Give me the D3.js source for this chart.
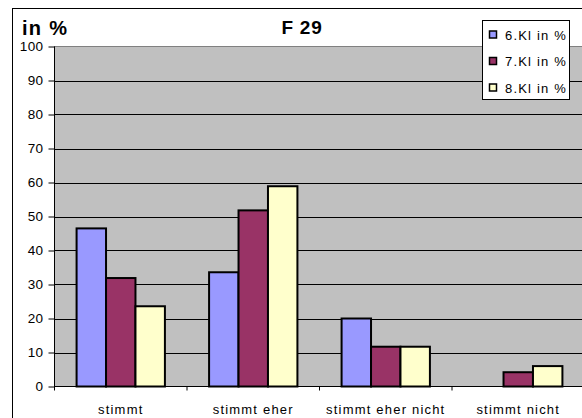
<!DOCTYPE html>
<html>
<head>
<meta charset="utf-8">
<script src="https://cdn.jsdelivr.net/npm/d3@7"></script>
<style>
  html, body { margin: 0; padding: 0; background: #fff; overflow: hidden; }
  svg { display: block; font-family: "Liberation Sans", Arial, sans-serif; }
</style>
</head>
<body>
<script>
// Antworten zu Frage F 29, Anteile je Klassenstufe in Prozent
const categories = ["stimmt", "stimmt eher", "stimmt eher nicht", "stimmt nicht"];
const seriesNames = ["6.Kl in %", "7.Kl in %", "8.Kl in %"];
const kl6 = [46.5, 33.6, 20.0, 0];
const kl7 = [31.9, 51.8, 11.7, 4.2];
const kl8 = [23.6, 58.9, 11.7, 6.0];
const yTicks = [0, 10, 20, 30, 40, 50, 60, 70, 80, 90, 100];
const colors = ["#9999FF", "#993366", "#FFFFCC"];

const seriesValues = [kl6, kl7, kl8];
const W = 582, H = 418;

const svg = d3.select("body").append("svg")
  .attr("width", W).attr("height", H);

// outer chart frame
svg.append("rect")
  .attr("x", 12.5).attr("y", 8.5)
  .attr("width", 600).attr("height", 430)
  .attr("fill", "#fff").attr("stroke", "#000").attr("stroke-width", 1);

const plotLeft = 54.5, plotRight = 584.5, plotTop = 46.5, plotBottom = 386.5;

const x0 = d3.scaleBand().domain(categories).range([plotLeft, plotRight]).padding(0);
const x1 = d3.scaleBand().domain(seriesNames).range([0, x0.bandwidth()])
  .paddingInner(0).paddingOuter(0.75);
const y = d3.scaleLinear().domain([0, 100]).range([plotBottom, plotTop]);

// plot area
svg.append("rect")
  .attr("x", plotLeft).attr("y", plotTop)
  .attr("width", 700).attr("height", plotBottom - plotTop)
  .attr("fill", "#C0C0C0").attr("stroke", "#808080").attr("stroke-width", 1);

// gridlines
svg.append("g").selectAll("line")
  .data(yTicks.filter(t => t > 0 && t < 100))
  .join("line")
  .attr("x1", plotLeft).attr("x2", W + 10)
  .attr("y1", d => Math.round(y(d)) + 0.5).attr("y2", d => Math.round(y(d)) + 0.5)
  .attr("stroke", "#000").attr("stroke-width", 1);

// bars
const groups = svg.append("g").selectAll("g")
  .data(categories)
  .join("g")
  .attr("transform", d => `translate(${x0(d)},0)`);

groups.selectAll("rect")
  .data((c, i) => seriesNames.map((s, k) => ({ s, v: seriesValues[k][i], k })))
  .join("rect")
  .filter(d => d.v > 0)
  .attr("x", d => x1(d.s))
  .attr("y", d => y(d.v))
  .attr("width", x1.bandwidth())
  .attr("height", d => y(0) - y(d.v))
  .attr("fill", d => colors[d.k])
  .attr("stroke", "#000").attr("stroke-width", 2);

// y axis
const yAxis = svg.append("g")
  .attr("transform", `translate(${plotLeft},0)`)
  .call(d3.axisLeft(y).tickValues(yTicks).tickSize(6).tickPadding(5).tickFormat(d3.format("d")));
yAxis.select(".domain").remove();
yAxis.append("line")
  .attr("x1", 0).attr("x2", 0).attr("y1", plotTop).attr("y2", plotBottom + 0.5)
  .attr("stroke", "#000");
yAxis.selectAll(".tick line").attr("stroke", "#000");
yAxis.selectAll(".tick text")
  .attr("font-size", 13.5).attr("fill", "#000")
  .attr("letter-spacing", "0.4px")
  .attr("font-family", "'Liberation Sans', Arial, sans-serif");

// x axis
const xAxis = svg.append("g")
  .attr("transform", `translate(0,${plotBottom})`);
xAxis.append("line")
  .attr("x1", plotLeft).attr("x2", W + 10)
  .attr("y1", 0).attr("y2", 0)
  .attr("stroke", "#000");
xAxis.selectAll("line.cat")
  .data(categories)
  .join("line")
  .attr("class", "cat")
  .attr("x1", d => x0(d)).attr("x2", d => x0(d))
  .attr("y1", 0).attr("y2", 4)
  .attr("stroke", "#000");
xAxis.selectAll("text")
  .data(categories)
  .join("text")
  .attr("x", d => x0(d) + x0.bandwidth() / 2)
  .attr("y", 27)
  .attr("text-anchor", "middle")
  .attr("font-size", 13)
  .attr("letter-spacing", "1.2px")
  .attr("fill", "#000")
  .text(d => d);

// titles
svg.append("text")
  .attr("x", 22).attr("y", 35)
  .attr("font-size", 20).attr("font-weight", "bold")
  .attr("letter-spacing", "1.3px")
  .text("in %");
svg.append("text")
  .attr("x", 302).attr("y", 34)
  .attr("text-anchor", "middle")
  .attr("font-size", 19).attr("font-weight", "bold")
  .attr("letter-spacing", "0.7px")
  .text("F 29");

// legend
const legend = svg.append("g");
legend.append("rect")
  .attr("x", 482.5).attr("y", 20.5)
  .attr("width", 87).attr("height", 79)
  .attr("fill", "#fff").attr("stroke", "#000");
const items = legend.selectAll("g.item")
  .data(seriesNames)
  .join("g")
  .attr("class", "item")
  .attr("transform", (d, i) => `translate(0,${34.5 + i * 26.5})`);
items.append("rect")
  .attr("x", 489.5).attr("y", -3.5)
  .attr("width", 7).attr("height", 7)
  .attr("fill", (d, i) => colors[i])
  .attr("stroke", "#000").attr("stroke-width", 1.5);
items.append("text")
  .attr("x", 505).attr("y", 5)
  .attr("font-size", 13)
  .attr("letter-spacing", "1.2px")
  .text(d => d);
</script>
</body>
</html>
